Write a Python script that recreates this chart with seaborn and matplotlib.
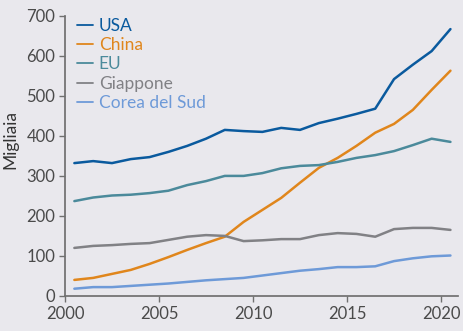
import matplotlib
matplotlib.use("Agg")
import matplotlib.pyplot as plt
import seaborn as sns
import pandas as pd

years = [2000.5 + i for i in range(21)]
usa = [332, 337, 332, 342, 347, 360, 375, 393, 415, 412, 410, 420, 415, 432, 443, 455, 468, 542, 578, 612, 667]
china = [40, 45, 55, 65, 80, 97, 115, 132, 148, 185, 215, 245, 283, 320, 345, 375, 408, 430, 465, 515, 563]
eu = [237, 246, 251, 253, 257, 263, 277, 287, 300, 300, 307, 319, 325, 327, 335, 345, 352, 362, 377, 393, 385]
giappone = [120, 125, 127, 130, 132, 140, 148, 152, 150, 137, 139, 142, 142, 152, 157, 155, 148, 167, 170, 170, 165]
corea = [18, 22, 22, 25, 28, 31, 35, 39, 42, 45, 51, 57, 63, 67, 72, 72, 74, 87, 94, 99, 101]

series = ["USA", "China", "EU", "Giappone", "Corea del Sud"]
colors = ["#0a5a9e", "#e0861c", "#4b8a9b", "#818185", "#6e9ad8"]
xticks = [2000, 2005, 2010, 2015, 2020]

df = pd.concat([
    pd.DataFrame({"anno": years, "valore": vals, "paese": name})
    for name, vals in zip(series, [usa, china, eu, giappone, corea])
])

bg = "#e9e8ed"
sns.set_theme(style="ticks", rc={
    "axes.facecolor": bg, "figure.facecolor": bg,
    "axes.edgecolor": "#707070", "xtick.color": "#707070", "ytick.color": "#707070",
    "xtick.labelcolor": "#4a4a4a", "ytick.labelcolor": "#4a4a4a",
})
plt.rcParams["font.family"] = ["Lato", "DejaVu Sans"]

fig = plt.figure(figsize=(4.64, 3.31), dpi=100)
ax = fig.add_axes([0.140, 0.106, 0.847, 0.846])
sns.lineplot(data=df, x="anno", y="valore", hue="paese", palette=dict(zip(series, colors)),
             linewidth=1.8, ax=ax)

ax.set_xlim(2000, 2020.9)
ax.set_ylim(0, 700)
ax.set_xticks(xticks)
ax.set_yticks(range(0, 701, 100))
ax.tick_params(labelsize=12, length=4, width=1, pad=3)
ax.set_xlabel("")
ax.set_ylabel("Migliaia", fontsize=12.5, color="#333333")
ax.yaxis.set_label_coords(-0.118, 0.56)
sns.despine(ax=ax)

leg = ax.legend(loc="upper left", bbox_to_anchor=(0.0, 1.035), frameon=False, fontsize=12.5,
                handlelength=0.9, handletextpad=0.35, labelspacing=0.18, borderaxespad=0.3)
for txt, c in zip(leg.get_texts(), colors):
    txt.set_color(c)
for line in leg.get_lines():
    line.set_linewidth(1.3)

fig.savefig("out.png", dpi=100, facecolor=bg)
